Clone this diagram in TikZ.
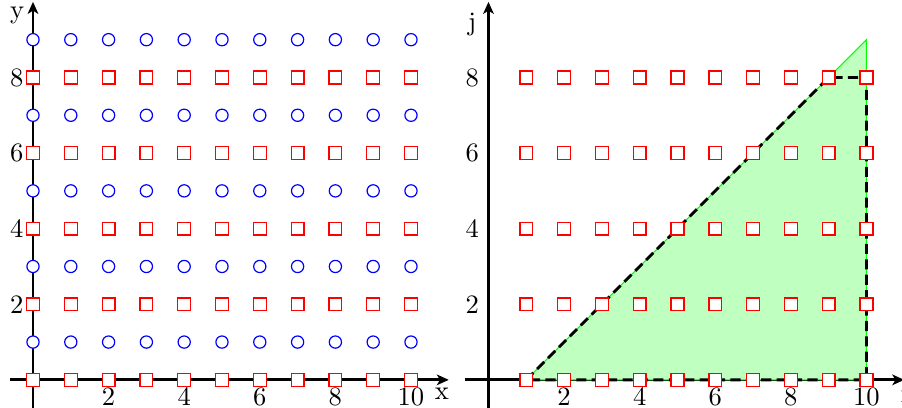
\documentclass[tikz,border=0pt]{standalone}
\usetikzlibrary{arrows.meta}
\begin{document}
\begin{tikzpicture}[x=0.5cm,y=0.5cm,
  axis/.style={line width=1.1pt,-{Stealth[length=4.5pt,width=4pt,inset=1.2pt]}},
  sq/.style={draw=red,fill=white,line width=0.5pt,rectangle,minimum size=4.8pt,inner sep=0pt},
  ci/.style={draw=blue,fill=white,line width=0.45pt,circle,minimum size=4.6pt,inner sep=0pt},
  tick/.style={inner sep=0pt},
  region/.style={fill=green!25,draw=green,line width=0.4pt},
  bound/.style={line width=1.1pt,dash pattern=on 3.8pt off 2pt}]
\useasboundingbox (-0.873,-0.741) rectangle (22.99,10.05);
% ---------- left panel ----------
\coordinate (Lxs) at (-0.6,0);
\coordinate (Lxe) at (11,0);
\coordinate (Lys) at (0,-0.9);
\coordinate (Lye) at (0,10);
\draw[axis] (Lxs) -- (Lxe);
\draw[axis] (Lys) -- (Lye);
\node (Lxlab) at (10.82,-0.37) {x};
\node (Lylab) at (-0.42,9.63) {y};
\foreach \v in {2,4,6,8} \node[tick,anchor=east] (Lyl\v) at (-0.24,\v) {\v};
\foreach \v in {2,4,6,8,10} \node[tick,anchor=north] (Lxl\v) at (\v,-0.19) {\v};
\foreach \x in {0,...,10}{
  \foreach \y in {0,2,...,8} \node[sq] (L-\x-\y) at (\x,\y) {};
  \foreach \y in {1,3,...,9} \node[ci] (L-\x-\y) at (\x,\y) {};
}
% ---------- right panel ----------
\begin{scope}[shift={(12.05,0)}]
\coordinate (Rxs) at (-0.62,0);
\coordinate (Rxe) at (11,0);
\coordinate (Rys) at (0,-0.9);
\coordinate (Rye) at (0,10);
\draw[axis] (Rxs) -- (Rxe);
\draw[axis] (Rys) -- (Rye);
\node (Rxlab) at (11.0,-0.37) {i};
\node (Rylab) at (-0.43,9.39) {j};
\foreach \v in {2,4,6,8} \node[tick,anchor=east] (Ryl\v) at (-0.24,\v) {\v};
\foreach \v in {2,4,6,8,10} \node[tick,anchor=north] (Rxl\v) at (\v,-0.19) {\v};
\coordinate (A) at (1,0);
\coordinate (B) at (9,8);
\coordinate (C) at (10,8);
\coordinate (D) at (10,0);
\coordinate (E) at (10,9);
\filldraw[region] (A) -- (E) -- (D) -- cycle;
\draw[bound] (A) -- (B) -- (C) -- (D) -- cycle;
\foreach \x in {1,...,10}{
  \foreach \y in {0,2,...,8} \node[sq] (R-\x-\y) at (\x,\y) {};
}
\end{scope}
\end{tikzpicture}
\end{document}
